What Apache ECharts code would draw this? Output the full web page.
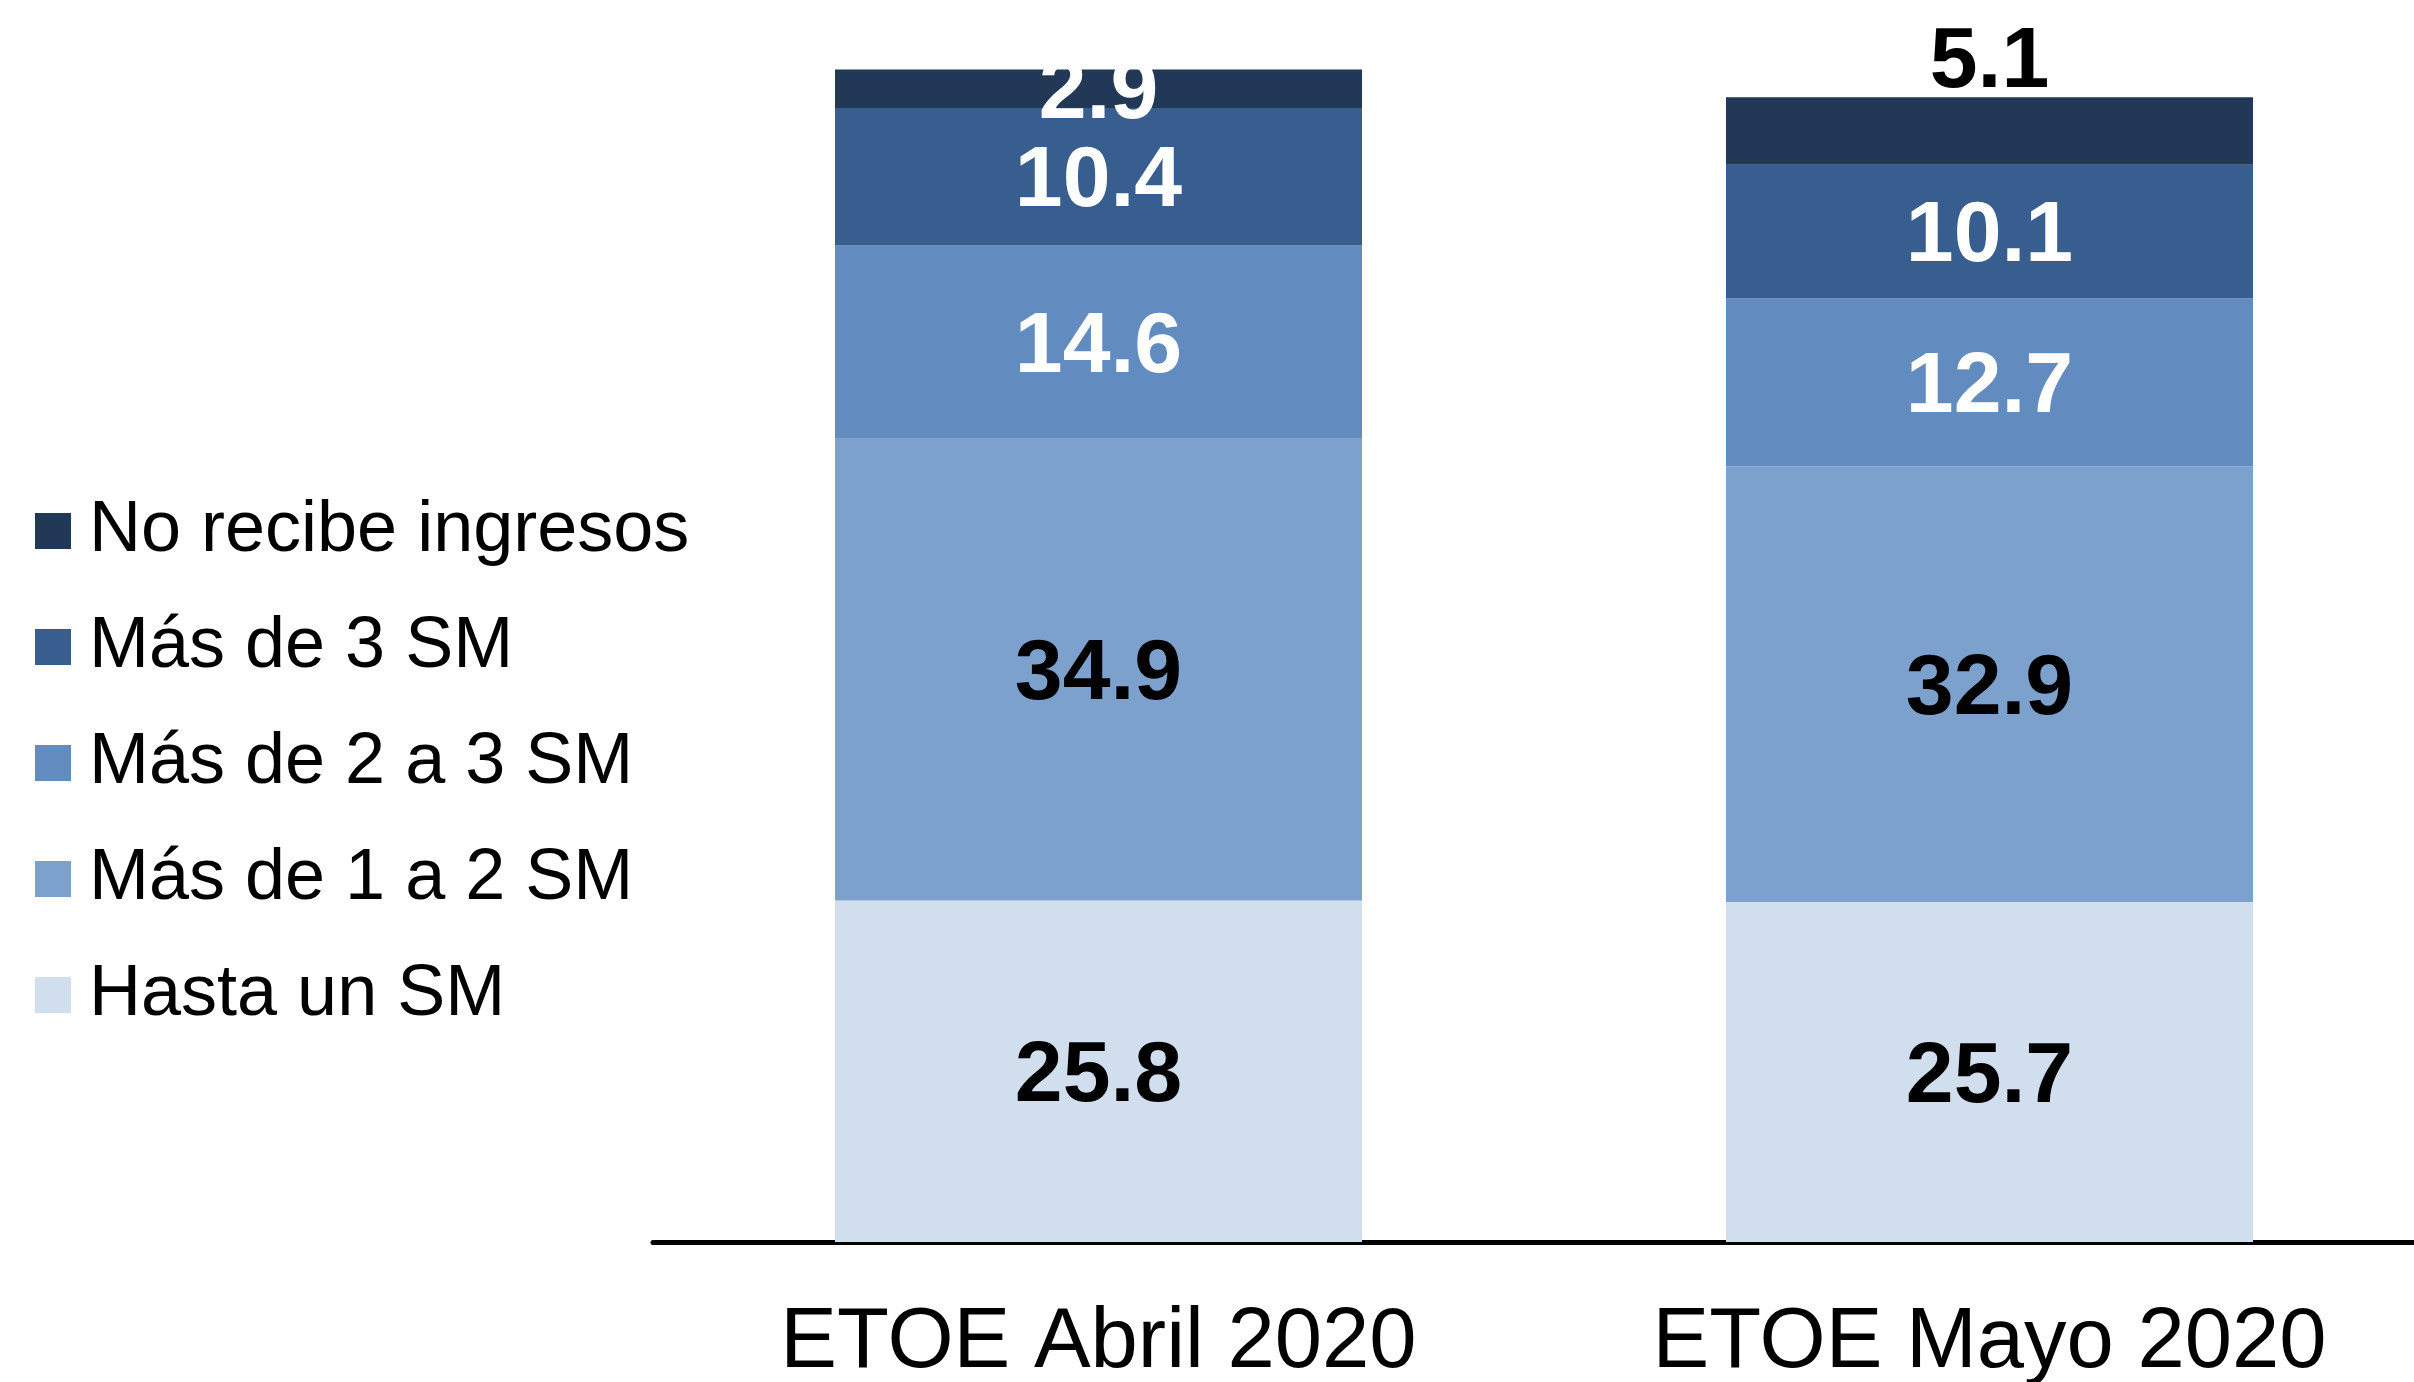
<!doctype html>
<html lang="es">
<head>
    <meta charset="UTF-8">
    <title>Ingresos ETOE</title>
    <script src="https://cdn.jsdelivr.net/npm/echarts@6/dist/echarts.min.js"></script>
    <style>
        html, body {
            margin: 0;
            padding: 0;
            background: #fff;
        }
        #chart {
            width: 2414px;
            height: 1382px;
        }
    </style>
</head>
<body>
<div id="chart"></div>
<script>
    // categorias del eje x
    const categories = ['ETOE Abril 2020', 'ETOE Mayo 2020'];

    // series, de abajo hacia arriba
    const seriesNames = ['Hasta un SM', 'Más de 1 a 2 SM', 'Más de 2 a 3 SM', 'Más de 3 SM', 'No recibe ingresos'];
    const hastaUnSM = [25.8, 25.7];
    const de1a2SM = [34.9, 32.9];
    const de2a3SM = [14.6, 12.7];
    const masDe3SM = [10.4, 10.1];
    const noRecibe = [2.9, 5.1];

    const values = [hastaUnSM, de1a2SM, de2a3SM, masDe3SM, noRecibe];
    const colors = ['#D1DEEE', '#7DA1CD', '#628BC0', '#375E8F', '#213857'];
    const labelColors = ['#000', '#000', '#fff', '#fff', '#fff'];

    const font = "'Liberation Sans', Arial, sans-serif";

    const series = seriesNames.map((name, i) => ({
        name: name,
        type: 'bar',
        stack: 'total',
        barWidth: 527,
        itemStyle: { color: colors[i] },
        label: {
            show: true,
            position: 'inside',
            offset: [0, 6],
            color: labelColors[i],
            fontFamily: font,
            fontWeight: 'bold',
            fontSize: 86,
            lineHeight: 88,
            formatter: p => p.value.toFixed(1)
        },
        data: values[i].map((v, j) => {
            // el 5.1 de mayo va encima de la barra
            if (i === 4 && j === 1) {
                return { value: v, label: { position: 'top', distance: -10, offset: [0, 0], color: '#000' } };
            }
            return v;
        })
    }));

    const myChart = echarts.init(document.getElementById('chart'));
    const option = {
        animation: false,
        backgroundColor: '#fff',
        grid: {
            left: 653,
            top: 51,
            width: 1782,
            height: 1191,
            containLabel: false,
            outerBoundsMode: 'none'
        },
        legend: {
            orient: 'vertical',
            left: 35,
            top: 484,
            padding: 0,
            itemGap: 22,
            itemWidth: 36,
            itemHeight: 36,
            icon: 'rect',
            data: seriesNames.slice().reverse(),
            textStyle: {
                fontFamily: font,
                fontSize: 72,
                lineHeight: 76,
                color: '#000',
                padding: [0, 0, 18, 13]
            }
        },
        xAxis: {
            type: 'category',
            data: categories,
            axisLine: { lineStyle: { color: '#000', width: 5 } },
            axisTick: { show: false },
            axisLabel: {
                interval: 0,
                hideOverlap: false,
                showMaxLabel: true,
                margin: 58,
                fontFamily: font,
                fontSize: 85,
                lineHeight: 88,
                color: '#000'
            }
        },
        yAxis: {
            type: 'value',
            min: 0,
            max: 90,
            show: false,
            splitLine: { show: false }
        },
        series: series
    };

    myChart.setOption(option);
</script>
</body>
</html>
